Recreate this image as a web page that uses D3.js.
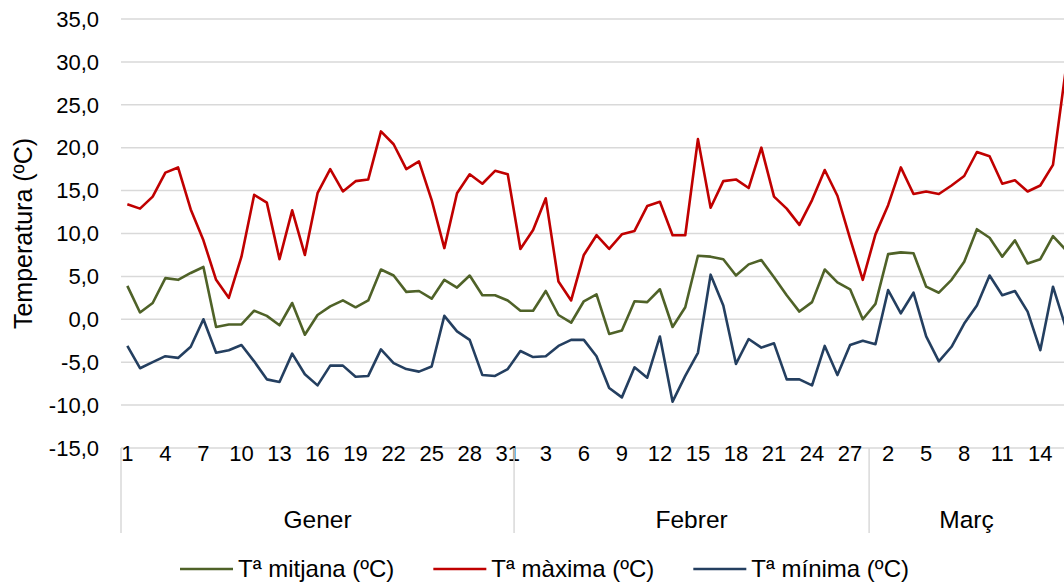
<!DOCTYPE html>
<html>
<head>
<meta charset="utf-8">
<script src="https://cdn.jsdelivr.net/npm/d3@7"></script>
<style>
  body { margin: 0; background: #fff; }
  svg { display: block; font-family: 'Liberation Sans', Arial, sans-serif; }
</style>
</head>
<body>
<svg id="chart"></svg>
<script>
const width = 1064;
const height = 583;

// months and how many days of each are on the chart
const months = ['Gener', 'Febrer', 'Març'];
const month_days = [31, 28, 16];

const y_ticks = [-15, -10, -5, 0, 5, 10, 15, 20, 25, 30, 35];

// daily temperatures, 1 gener .. 16 març
const t_mitjana = [
  3.9, 0.8, 1.9, 4.8, 4.6, 5.4, 6.1, -0.9, -0.6, -0.6,
  1.0, 0.4, -0.7, 1.9, -1.8, 0.5, 1.5, 2.2, 1.4, 2.2,
  5.8, 5.1, 3.2, 3.3, 2.4, 4.6, 3.7, 5.1, 2.8, 2.8,
  2.2, 1.0, 1.0, 3.3, 0.5, -0.4, 2.1, 2.9, -1.7, -1.3,
  2.1, 2.0, 3.5, -0.9, 1.4, 7.4, 7.3, 7.0, 5.1, 6.4,
  6.9, 4.9, 2.8, 0.9, 2.0, 5.8, 4.3, 3.5, 0.0, 1.8,
  7.6, 7.8, 7.7, 3.8, 3.1, 4.6, 6.7, 10.5, 9.5, 7.3,
  9.2, 6.5, 7.0, 9.7, 8.1
];
const t_maxima = [
  13.4, 12.9, 14.3, 17.1, 17.7, 12.8, 9.2, 4.6, 2.5, 7.3,
  14.5, 13.6, 7.0, 12.7, 7.5, 14.7, 17.5, 14.9, 16.1, 16.3,
  21.9, 20.4, 17.5, 18.4, 13.9, 8.3, 14.7, 16.9, 15.8, 17.3,
  16.9, 8.2, 10.4, 14.1, 4.4, 2.2, 7.5, 9.8, 8.2, 9.9,
  10.3, 13.2, 13.7, 9.8, 9.8, 21.0, 13.0, 16.1, 16.3, 15.3,
  20.0, 14.3, 12.9, 11.0, 13.9, 17.4, 14.4, 9.4, 4.6, 9.9,
  13.3, 17.7, 14.6, 14.9, 14.6, 15.6, 16.7, 19.5, 19.0, 15.8,
  16.2, 14.9, 15.6, 18.0, 29.0
];
const t_minima = [
  -3.1, -5.7, -5.0, -4.3, -4.5, -3.2, 0.0, -3.9, -3.6, -3.0,
  -4.9, -7.0, -7.3, -4.0, -6.4, -7.7, -5.4, -5.4, -6.7, -6.6,
  -3.5, -5.1, -5.8, -6.1, -5.5, 0.4, -1.4, -2.4, -6.5, -6.6,
  -5.8, -3.7, -4.4, -4.3, -3.1, -2.4, -2.4, -4.3, -8.0, -9.1,
  -5.6, -6.8, -2.0, -9.6, -6.6, -3.9, 5.2, 1.6, -5.2, -2.3,
  -3.3, -2.8, -7.0, -7.0, -7.7, -3.1, -6.5, -3.0, -2.5, -2.9,
  3.4, 0.7, 3.1, -2.0, -4.9, -3.2, -0.5, 1.6, 5.1, 2.8,
  3.3, 0.9, -3.6, 3.8, -0.9
];

const series = [
  { name: 'Tª mitjana (ºC)', values: t_mitjana, color: '#4f6228' },
  { name: 'Tª màxima (ºC)', values: t_maxima, color: '#c00000' },
  { name: 'Tª mínima (ºC)', values: t_minima, color: '#243f60' }
];

// one entry per day: day of month and month index
let days = [];
month_days.forEach((n, m) => {
  for (let d = 1; d <= n; d++) days.push({ day: d, month: m });
});

const margin = { left: 121, top: 19, bottom: 448 };
const day_w = 12.68;
const tick_size = 22;
const label_size = 24.5;

const x = d3.scaleBand()
  .domain(d3.range(days.length))
  .range([margin.left, margin.left + days.length * day_w]);
const y = d3.scaleLinear()
  .domain([-15, 35])
  .range([margin.bottom, margin.top]);
const cx = (i) => x(i) + x.bandwidth() / 2;

const svg = d3.select('#chart')
  .attr('width', width)
  .attr('height', height);

// grid
svg.append('g')
  .selectAll('line')
  .data(y_ticks)
  .enter().append('line')
    .attr('x1', margin.left)
    .attr('x2', width)
    .attr('y1', d => y(d))
    .attr('y2', d => y(d))
    .attr('stroke', '#d9d9d9')
    .attr('stroke-width', 1.5);

// y labels
svg.append('g')
  .selectAll('text')
  .data(y_ticks)
  .enter().append('text')
    .attr('x', 99)
    .attr('y', d => y(d))
    .attr('dy', '0.35em')
    .attr('text-anchor', 'end')
    .attr('font-size', tick_size)
    .attr('fill', '#000')
    .text(d => d3.format('.1f')(d).replace('.', ',').replace('−', '-'));

svg.append('text')
  .attr('transform', `translate(23,${(margin.top + margin.bottom) / 2}) rotate(-90)`)
  .attr('text-anchor', 'middle')
  .attr('dy', '0.35em')
  .attr('font-size', 25)
  .text('Temperatura (ºC)');

// x axis: day labels every 3 days, month separators and names
svg.append('g')
  .selectAll('text')
  .data(days.map((d, i) => [d, i]).filter(d => d[1] % 3 == 0))
  .enter().append('text')
    .attr('x', d => cx(d[1]))
    .attr('y', 453)
    .attr('dy', '0.35em')
    .attr('text-anchor', 'middle')
    .attr('font-size', tick_size)
    .text(d => d[0].day);

let starts = [0];
month_days.forEach((n, m) => starts.push(starts[m] + n));
svg.append('g')
  .selectAll('line')
  .data(starts.slice(0, months.length))
  .enter().append('line')
    .attr('x1', d => x(d))
    .attr('x2', d => x(d))
    .attr('y1', margin.bottom)
    .attr('y2', 533)
    .attr('stroke', '#d9d9d9')
    .attr('stroke-width', 1.5);

svg.append('g')
  .selectAll('text')
  .data(months)
  .enter().append('text')
    .attr('x', (d, m) => (x(starts[m]) + Math.min(width, x(starts[m]) + month_days[m] * day_w)) / 2)
    .attr('y', 519)
    .attr('dy', '0.35em')
    .attr('text-anchor', 'middle')
    .attr('font-size', label_size)
    .text(d => d);

// lines
const line = d3.line()
  .x((d, i) => cx(i))
  .y(d => y(d));

svg.append('g')
  .selectAll('path')
  .data(series)
  .enter().append('path')
    .attr('fill', 'none')
    .attr('stroke', d => d.color)
    .attr('stroke-width', 2.6)
    .attr('stroke-linejoin', 'round')
    .attr('d', d => line(d.values));

// legend
let lx = 180;
series.forEach((s) => {
  let g = svg.append('g').attr('transform', `translate(${lx},569)`);
  g.append('line')
    .attr('x1', 0).attr('x2', 53)
    .attr('stroke', s.color)
    .attr('stroke-width', 2.6);
  let t = g.append('text')
    .attr('x', 58)
    .attr('dy', '0.35em')
    .attr('font-size', 24)
    .text(s.name);
  lx += 58 + t.node().getComputedTextLength() + 39;
});
</script>
</body>
</html>
